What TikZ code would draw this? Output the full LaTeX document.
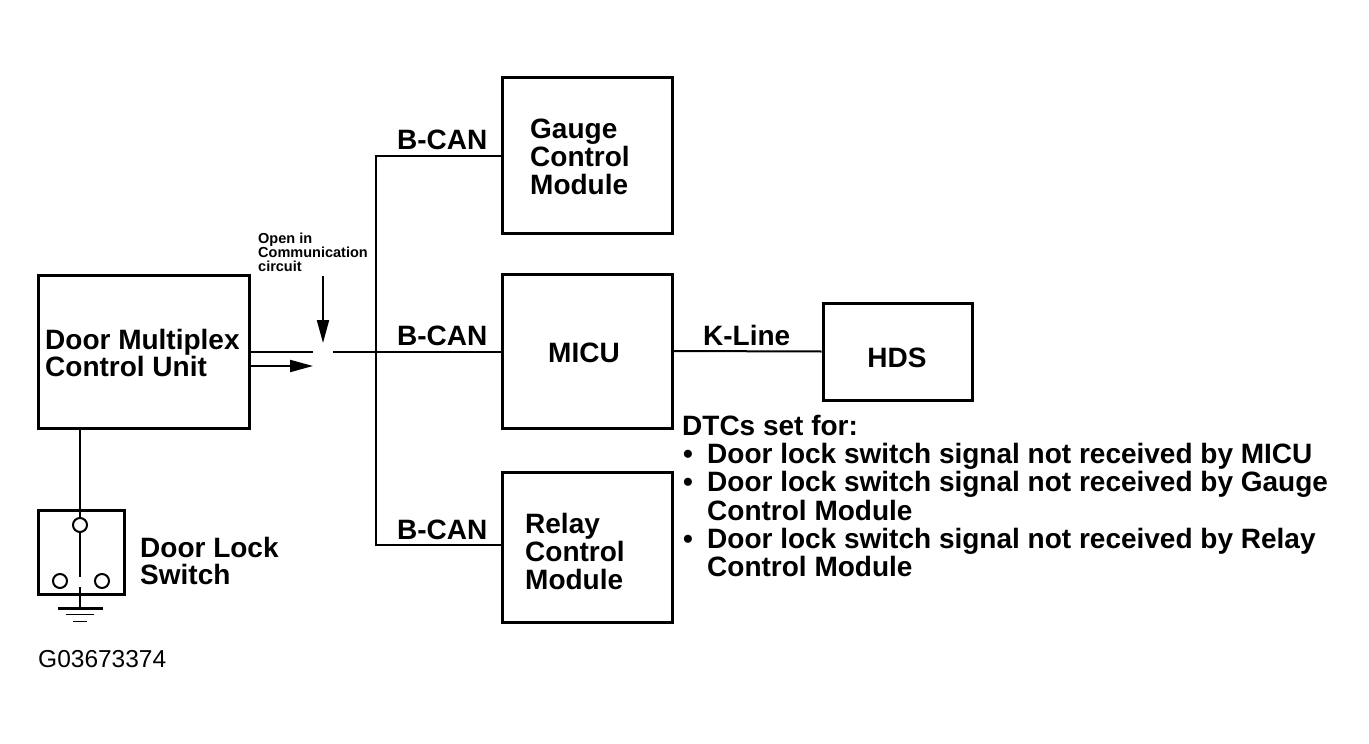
\documentclass[tikz,border=0pt]{standalone}
\usepackage{fontspec}
\setmainfont{Liberation Sans}
\usetikzlibrary{arrows.meta}
\begin{document}
\begin{tikzpicture}[x=1pt,y=-1pt,
  box/.style={draw, line width=3pt, inner sep=0pt, rectangle},
  wire/.style={draw, line width=2pt},
  term/.style={draw, circle, line width=2pt, minimum size=14pt, inner sep=0pt},
  txt/.style={anchor=base west, inner sep=0pt, font=\fontsize{28}{28}\selectfont\bfseries},
  ctxt/.style={anchor=base, inner sep=0pt, font=\fontsize{28}{28}\selectfont\bfseries},
  small/.style={anchor=base west, inner sep=0pt, font=\fontsize{14.5}{14.5}\selectfont\bfseries},
  tip/.style={-{Triangle[length=23pt,width=12pt]}}
]
\useasboundingbox (0,0) rectangle (1369,744);
\fill[white] (0,0) rectangle (1369,744);

% boxes
\node[box, minimum width=211pt, minimum height=153pt] (dmcu) at (143.5,351.5) {};
\node[box, minimum width=170pt, minimum height=156pt] (gcm) at (587,155) {};
\node[box, minimum width=170pt, minimum height=154pt] (micu) at (587,351) {};
\node[box, minimum width=170pt, minimum height=150pt] (rcm) at (587,547) {};
\node[box, minimum width=149pt, minimum height=97pt] (hds) at (897.5,351.5) {};
\node[box, minimum width=86pt, minimum height=84pt] (sw) at (81,552) {};

% switch terminals
\node[term] (c1) at (80,525) {};
\node[term] (c2) at (60,581) {};
\node[term] (c3) at (102,581) {};

% coordinates
\coordinate (swa) at (80,577);
\coordinate (swb) at (80,587);
\coordinate (gnd) at (80,608);
\coordinate (opn1) at (313,352);
\coordinate (opn2) at (333,352);
\coordinate (sig) at (313,366);
\coordinate (oa1) at (323,276);
\coordinate (oa2) at (323,343);
\coordinate (bt) at (376,156);
\coordinate (bb) at (376,545);

% connectors
\draw[wire] (c1 |- dmcu.south) -- (c1.north);
\draw[wire] (c1.south) -- (swa);
\draw[wire] (swb) -- (gnd);
\draw[line width=3pt] (58,608) -- (103,608);
\draw[line width=1.6pt] (66,614.5) -- (94,614.5);
\draw[line width=1.6pt] (73,621.5) -- (87,621.5);

\draw[wire] (dmcu.east |- opn1) -- (opn1);
\draw[wire, tip] (dmcu.east |- sig) -- (sig);
\draw[wire, tip] (oa1) -- (oa2);
\draw[wire] (opn2) -- (opn2 -| micu.west);
\draw[wire] (gcm.west |- bt) -- (bt) -- (bb) -- (rcm.west |- bb);
\draw[wire] (micu.east) -- (hds.west);

% texts
\node[txt] (t1) at (45,349) {Door Multiplex};
\node[txt] (t2) at (45,376) {Control Unit};
\node[txt] (t3) at (140,557) {Door Lock};
\node[txt] (t4) at (140,584) {Switch};
\node[anchor=base west, inner sep=0pt, font=\fontsize{24.5}{24.5}\selectfont] (gid) at (38,667) {G03673374};

\node[small] (o1) at (258,243) {Open in};
\node[small] (o2) at (258,257) {Communication};
\node[small] (o3) at (258,271) {circuit};

\node[txt] (b1) at (397,149) {B-CAN};
\node[txt] (b2) at (397,345) {B-CAN};
\node[txt] (b3) at (397,539) {B-CAN};

\node[txt] (g1) at (530,138) {Gauge};
\node[txt] (g2) at (530,166) {Control};
\node[txt] (g3) at (530,194) {Module};

\node[ctxt] (m1) at (584,362) {MICU};

\node[txt] (r1) at (525,533) {Relay};
\node[txt] (r2) at (525,561) {Control};
\node[txt] (r3) at (525,589) {Module};

\node[txt] (k1) at (703,345) {K-Line};
\node[ctxt] (h1) at (897,367) {HDS};

\node[txt] (d0) at (682,435) {DTCs set for:};
\node[txt] (d1) at (683,463) {\makebox[24pt][l]{•}Door lock switch signal not received by MICU};
\node[txt] (d2) at (683,491) {\makebox[24pt][l]{•}Door lock switch signal not received by Gauge};
\node[txt] (d3) at (707,520) {Control Module};
\node[txt] (d4) at (683,548) {\makebox[24pt][l]{•}Door lock switch signal not received by Relay};
\node[txt] (d5) at (707,576) {Control Module};
\end{tikzpicture}
\end{document}
